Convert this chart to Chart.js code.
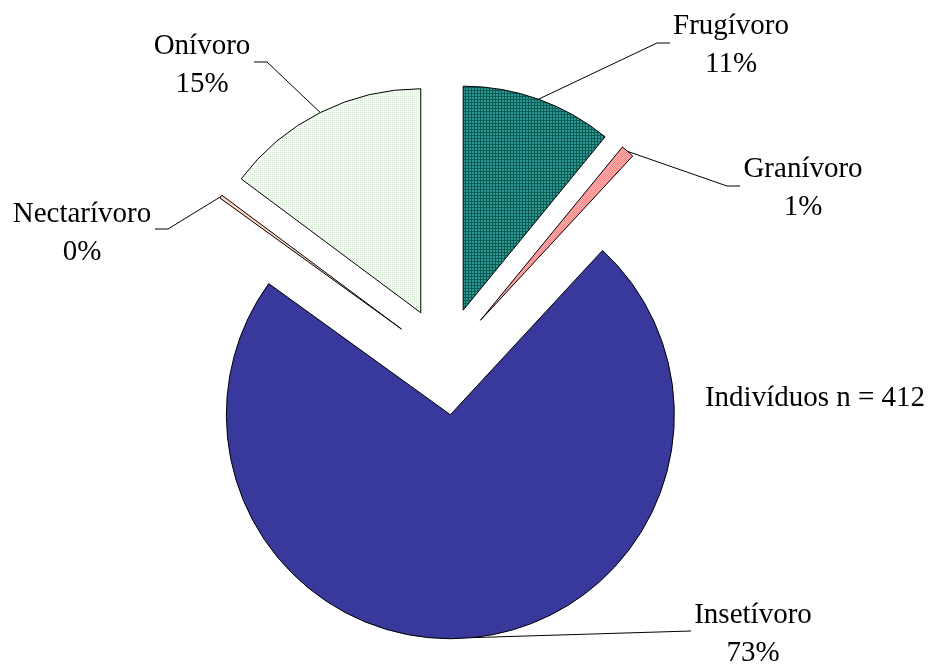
<!DOCTYPE html>
<html>
<head>
<meta charset="utf-8">
<script src="https://cdn.jsdelivr.net/npm/chart.js@4"></script>
<style>
  html, body { margin: 0; padding: 0; background: #fff; }
  canvas { display: block; }
</style>
</head>
<body>
<canvas id="pie" width="931" height="664"></canvas>
<script>
// Guilda trófica - indivíduos (n = 412)
const categories = ['Frugívoro', 'Granívoro', 'Insetívoro', 'Nectarívoro', 'Onívoro'];
const counts = [45, 4, 301, 1, 61];
const noteText = 'Indivíduos n = 412';

// label placement: text centre x, first baseline y, elbow point, end of short horizontal
const labelPos = [
  { x: 731, y: 34, elbow: [657, 43], end: [670, 43] },
  { x: 803, y: 177, elbow: [727, 186], end: [740, 186] },
  { x: 753, y: 623, elbow: [691, 631], end: [691, 631] },
  { x: 82, y: 222, elbow: [168, 229], end: [155, 229] },
  { x: 202, y: 54, elbow: [267, 62], end: [254, 62] }
];

const FONT = '29px "Liberation Serif", "Times New Roman", serif';
const EXPLODE = 54;

function makePattern(size, cells) {
  const c = document.createElement('canvas');
  c.width = size; c.height = size;
  const g = c.getContext('2d');
  cells.forEach(([x, y, col]) => {
    g.fillStyle = col;
    g.fillRect(x, y, 1, 1);
  });
  return g.createPattern(c, 'repeat');
}

function fill(size, base, dots) {
  const cells = [];
  for (let y = 0; y < size; y++) for (let x = 0; x < size; x++) cells.push([x, y, base]);
  return makePattern(size, cells.concat(dots));
}

const tealFill = fill(3, '#2a9a90', [[0, 0, '#0c5a56'], [1, 0, '#0c5a56'], [2, 0, '#0c5a56'], [0, 1, '#0c5a56'], [0, 2, '#0c5a56']]);
const pinkFill = fill(2, '#ffb4b4', [[0, 0, '#ff8282'], [1, 1, '#ff8282']]);
const blueFill = fill(2, '#3d3da2', [[0, 0, '#323294'], [1, 1, '#363698']]);
const peachFill = '#ffd6bf';
const greenFill = fill(2, '#f8fcf7', [[0, 0, '#d4ead0']]);

const colors = [tealFill, pinkFill, blueFill, peachFill, greenFill];

// pull every slice away from the centre along its mid angle
const explodePlugin = {
  id: 'explode',
  afterUpdate(chart) {
    chart.getDatasetMeta(0).data.forEach(arc => {
      const mid = (arc.startAngle + arc.endAngle) / 2;
      arc.x += Math.cos(mid) * EXPLODE;
      arc.y += Math.sin(mid) * EXPLODE;
    });
  }
};

const labelPlugin = {
  id: 'pieLabels',
  afterDatasetsDraw(chart) {
    const ctx = chart.ctx;
    const meta = chart.getDatasetMeta(0);
    const total = counts.reduce((a, b) => a + b, 0);
    ctx.save();
    ctx.strokeStyle = '#000';
    ctx.lineWidth = 1;
    meta.data.forEach((arc, i) => {
      const mid = (arc.startAngle + arc.endAngle) / 2;
      const sx = arc.x + Math.cos(mid) * arc.outerRadius;
      const sy = arc.y + Math.sin(mid) * arc.outerRadius;
      const p = labelPos[i];
      ctx.beginPath();
      ctx.moveTo(sx, sy);
      ctx.lineTo(p.elbow[0], p.elbow[1]);
      ctx.lineTo(p.end[0], p.end[1]);
      ctx.stroke();
    });
    ctx.fillStyle = '#000';
    ctx.font = FONT;
    ctx.textAlign = 'center';
    ctx.textBaseline = 'alphabetic';
    meta.data.forEach((arc, i) => {
      const p = labelPos[i];
      const pct = Math.round(counts[i] / total * 100) + '%';
      ctx.fillText(categories[i], p.x, p.y);
      ctx.fillText(pct, p.x, p.y + 38);
    });
    ctx.fillText(noteText, 815, 406);
    ctx.restore();
  }
};

new Chart(document.getElementById('pie'), {
  type: 'pie',
  data: {
    labels: categories,
    datasets: [{
      data: counts,
      backgroundColor: colors,
      borderColor: '#000',
      borderWidth: 1
    }]
  },
  options: {
    responsive: false,
    animation: false,
    events: [],
    radius: 224,
    layout: { padding: { left: 0, right: 41, top: 58, bottom: 0 } },
    plugins: {
      legend: { display: false },
      tooltip: { enabled: false },
      title: { display: false }
    }
  },
  plugins: [explodePlugin, labelPlugin]
});
</script>
</body>
</html>
